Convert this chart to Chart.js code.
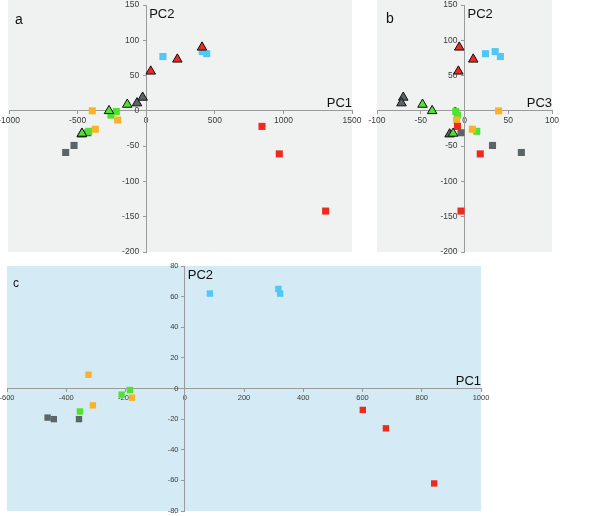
<!DOCTYPE html>
<html>
<head>
<meta charset="utf-8">
<script src="https://cdn.jsdelivr.net/npm/chart.js@4.4.1/dist/chart.umd.min.js"></script>
<style>
  html, body { margin: 0; padding: 0; background: #fff; }
  #wrap { position: relative; width: 600px; height: 516px; overflow: hidden; }
  canvas { position: absolute; }
</style>
</head>
<body>
<div id="wrap">
  <canvas id="chartA"></canvas>
  <canvas id="chartB"></canvas>
  <canvas id="chartC"></canvas>
</div>
<script>
// ========== DATA (panels a & b share the same samples) ==========
const redSqPC1 = [844, 970, 1308];
const redSqPC2 = [-22, -61, -142];
const redSqPC3 = [-8, 18, -4];

const blueSqPC1 = [122, 409, 441];
const blueSqPC2 = [77, 84, 81];
const blueSqPC3 = [41, 35, 24];

const orangeSqPC1 = [-393, -208, -371];
const orangeSqPC2 = [0, -13, -26];
const orangeSqPC3 = [39, -9, 9];

const greenSqPC1 = [-218, -257, -419];
const greenSqPC2 = [-1, -6, -29];
const greenSqPC3 = [-10, -8, 14];

const graySqPC1 = [-587, -526, -425];
const graySqPC2 = [-59, -49, -31];
const graySqPC3 = [65, 32, -4];

const redTriPC1 = [33, 227, 407];
const redTriPC2 = [56, 73, 90];
const redTriPC3 = [-7, 10, -6];

const greenTriPC1 = [-138, -271, -468];
const greenTriPC2 = [9, 0, -32];
const greenTriPC3 = [-48, -37, -13];

const grayTriPC1 = [-26, -67, -470];
const grayTriPC2 = [19, 11, -33];
const grayTriPC3 = [-70, -72, -17];

// panel c (separate analysis, squares only)
const cRedPC1 = [601, 679, 842];
const cRedPC2 = [-14, -26, -62];
const cBluePC1 = [85, 316, 322];
const cBluePC2 = [62, 65, 62];
const cOrangePC1 = [-325, -310, -178];
const cOrangePC2 = [9, -11, -6];
const cGreenPC1 = [-213, -185, -354];
const cGreenPC2 = [-4, -1, -15];
const cGrayPC1 = [-463, -442, -357];
const cGrayPC2 = [-19, -20, -20];

// tick labels
const ticksA_x = [-1000, -500, 0, 500, 1000, 1500];
const ticksAB_y = [-200, -150, -100, -50, 0, 50, 100, 150];
const ticksB_x = [-100, -50, 0, 50, 100];
const ticksC_x = [-600, -400, -200, 0, 200, 400, 600, 800, 1000];
const ticksC_y = [-80, -60, -40, -20, 0, 20, 40, 60, 80];

// ========== STYLE ==========
const RED = "#ee2a1e";
const BLUE = "#52c6f4";
const ORANGE = "#fbb227";
const GREEN = "#4fe22f";
const GRAY = "#5b6466";
const AXIS = "#9a9a9a";
const LABEL = "#3a3a3a";
const FONT = "'Liberation Sans', Arial, Helvetica, sans-serif";
const PAD = 24;

// ========== HELPERS ==========
function pts(xs, ys) {
  return xs.map((x, i) => ({ x: x, y: ys[i] }));
}

function sq(color, xs, ys, r) {
  return {
    data: pts(xs, ys),
    pointStyle: "rect",
    pointRadius: r,
    backgroundColor: color,
    borderWidth: 0,
  };
}

function tri(color, xs, ys, r) {
  return {
    data: pts(xs, ys),
    pointStyle: "triangle",
    pointRadius: r,
    backgroundColor: color,
    borderColor: "#111",
    borderWidth: 1,
  };
}

function placeCanvas(id, area) {
  const c = document.getElementById(id);
  c.width = area.right - area.left + 2 * PAD;
  c.height = area.bottom - area.top + 2 * PAD;
  c.style.left = area.left - PAD + "px";
  c.style.top = area.top - PAD + "px";
  return c;
}

// background of the plot area
const panelBg = {
  id: "panelBg",
  beforeDraw(chart, args, opts) {
    const a = chart.chartArea;
    const ctx = chart.ctx;
    ctx.save();
    ctx.fillStyle = opts.color;
    ctx.fillRect(a.left - (opts.extLeft || 0), a.top - (opts.extTop || 0),
      a.right - a.left + (opts.extLeft || 0), a.bottom - a.top + (opts.extTop || 0));
    ctx.restore();
  },
};

// panel letter and axis names
const panelText = {
  id: "panelText",
  afterDraw(chart, args, opts) {
    const a = chart.chartArea;
    const ctx = chart.ctx;
    const x0 = chart.scales.x.getPixelForValue(0);
    const y0 = chart.scales.y.getPixelForValue(0);
    ctx.save();
    ctx.fillStyle = "#111";
    ctx.textBaseline = "alphabetic";
    ctx.font = opts.letterSize + "px " + FONT;
    ctx.textAlign = "left";
    ctx.fillText(opts.letter, a.left + opts.letterX, a.top + opts.letterY);
    ctx.font = "13px " + FONT;
    ctx.fillText(opts.yName, x0 + 3, a.top + 13);
    ctx.textAlign = "right";
    ctx.fillText(opts.xName, a.right, y0 - 4);
    ctx.restore();
  },
};

function makeOptions(xTicks, yTicks, tickSize, text, bg) {
  const fixTicks = (list) => (scale) => {
    scale.ticks = list.map((v) => ({ value: v }));
  };
  const tickFont = { family: FONT, size: tickSize };
  return {
    responsive: false,
    animation: false,
    events: [],
    devicePixelRatio: 1,
    layout: { padding: PAD },
    plugins: {
      legend: { display: false },
      tooltip: { enabled: false },
      panelBg: bg,
      panelText: text,
    },
    scales: {
      x: {
        type: "linear",
        min: xTicks[0],
        max: xTicks[xTicks.length - 1],
        position: { y: 0 },
        afterBuildTicks: fixTicks(xTicks),
        ticks: {
          font: tickFont, color: LABEL, padding: 2, maxRotation: 0, autoSkip: false,
          callback: (v) => String(v),
        },
        grid: { drawOnChartArea: false, drawTicks: true, tickLength: 3, color: AXIS },
        border: { color: AXIS, width: 1 },
      },
      y: {
        type: "linear",
        min: yTicks[0],
        max: yTicks[yTicks.length - 1],
        position: { x: 0 },
        afterBuildTicks: fixTicks(yTicks),
        // labels of a crossing axis sit on the line: trailing spaces push them off it
        ticks: {
          font: tickFont, color: LABEL, autoSkip: false,
          callback: (v) => v + "   ",
        },
        grid: { drawOnChartArea: false, drawTicks: true, tickLength: 3, color: AXIS },
        border: { color: AXIS, width: 1 },
      },
    },
  };
}

// ========== PANEL A : PC1 / PC2 ==========
new Chart(placeCanvas("chartA", { left: 9, right: 352, top: 5, bottom: 252 }), {
  type: "scatter",
  data: {
    datasets: [
      tri(RED, redTriPC1, redTriPC2, 5.5),
      tri(GREEN, greenTriPC1, greenTriPC2, 5.5),
      tri(GRAY, grayTriPC1, grayTriPC2, 5.5),
      sq(BLUE, blueSqPC1, blueSqPC2, 5),
      sq(RED, redSqPC1, redSqPC2, 5),
      sq(ORANGE, orangeSqPC1, orangeSqPC2, 5),
      sq(GREEN, greenSqPC1, greenSqPC2, 5),
      sq(GRAY, graySqPC1, graySqPC2, 5),
    ],
  },
  options: makeOptions(ticksA_x, ticksAB_y, 8.5,
    { letter: "a", letterSize: 14, letterX: 6, letterY: 19, xName: "PC1", yName: "PC2" },
    { color: "#eff2f1", extTop: 5, extLeft: 1 }),
  plugins: [panelBg, panelText],
});

// ========== PANEL B : PC3 / PC2 ==========
new Chart(placeCanvas("chartB", { left: 377, right: 552, top: 5, bottom: 252 }), {
  type: "scatter",
  data: {
    datasets: [
      tri(RED, redTriPC3, redTriPC2, 5.5),
      tri(GREEN, greenTriPC3, greenTriPC2, 5.5),
      tri(GRAY, grayTriPC3, grayTriPC2, 5.5),
      sq(BLUE, blueSqPC3, blueSqPC2, 5),
      sq(RED, redSqPC3, redSqPC2, 5),
      sq(ORANGE, orangeSqPC3, orangeSqPC2, 5),
      sq(GREEN, greenSqPC3, greenSqPC2, 5),
      sq(GRAY, graySqPC3, graySqPC2, 5),
    ],
  },
  options: makeOptions(ticksB_x, ticksAB_y, 8.5,
    { letter: "b", letterSize: 14, letterX: 9, letterY: 18, xName: "PC3", yName: "PC2" },
    { color: "#eff2f1", extTop: 5 }),
  plugins: [panelBg, panelText],
});

// ========== PANEL C : PC1 / PC2 ==========
new Chart(placeCanvas("chartC", { left: 7, right: 481, top: 266, bottom: 511 }), {
  type: "scatter",
  data: {
    datasets: [
      sq(BLUE, cBluePC1, cBluePC2, 4.5),
      sq(RED, cRedPC1, cRedPC2, 4.5),
      sq(ORANGE, cOrangePC1, cOrangePC2, 4.5),
      sq(GREEN, cGreenPC1, cGreenPC2, 4.5),
      sq(GRAY, cGrayPC1, cGrayPC2, 4.5),
    ],
  },
  options: makeOptions(ticksC_x, ticksC_y, 7.5,
    { letter: "c", letterSize: 12, letterX: 6, letterY: 21, xName: "PC1", yName: "PC2" },
    { color: "#d4eaf4" }),
  plugins: [panelBg, panelText],
});
</script>
</body>
</html>
